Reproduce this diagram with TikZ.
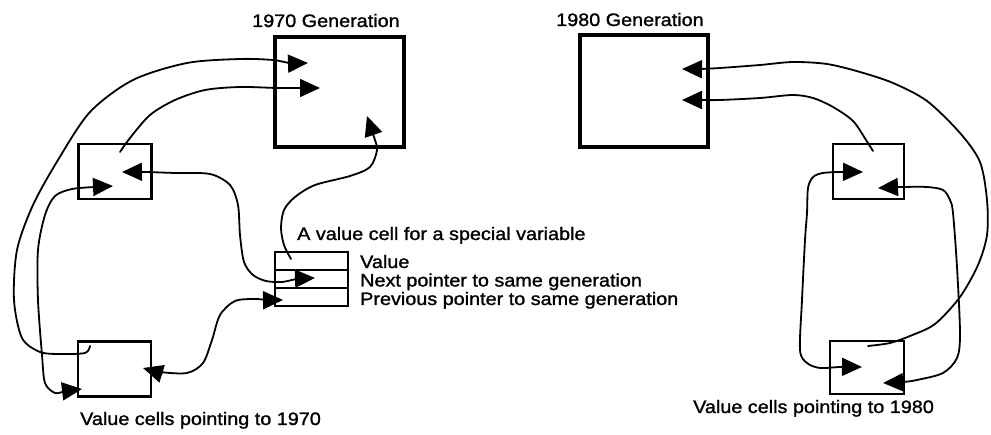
\documentclass[tikz,border=0pt]{standalone}
\usepackage{fontspec}
\setmainfont{Liberation Sans}[FakeStretch=1.1,FakeBold=1.3]
\usetikzlibrary{arrows.meta}
\begin{document}
\begin{tikzpicture}[x=1pt,y=-1pt,
  bigbox/.style={draw, line width=3.8pt, inner sep=0pt},
  smallbox/.style={draw, line width=2.4pt, inner sep=0pt, minimum width=73pt, minimum height=55pt},
  cellrow/.style={draw, line width=2.2pt, inner sep=0pt, minimum width=73pt, minimum height=18pt},
  lbl/.style={font=\fontsize{18}{20}\selectfont, inner sep=0pt, anchor=base west},
  conn/.style={line width=1.8pt, line join=round, line cap=round},
  ar/.tip={Triangle[length=20pt,width=18pt]}]
\useasboundingbox (0,0) rectangle (991,435);

% generation boxes
\node[bigbox, minimum width=129pt, minimum height=110pt] (g70) at (339.5,92) {};
\node[bigbox, minimum width=128pt, minimum height=112pt] (g80) at (644,91) {};

% value cells
\node[smallbox] (L1) at (115,171.5) {};
\node[smallbox] (L2) at (114.5,369) {};
\node[smallbox, minimum width=71pt] (R1) at (868.5,171.5) {};
\node[smallbox, minimum width=74pt, minimum height=53pt] (R2) at (867,367.5) {};

% the special value cell
\node[cellrow] (vc1) at (311.5,261) {};
\node[cellrow] (vc2) at (311.5,279) {};
\node[cellrow] (vc3) at (311.5,297) {};

% labels
\node[lbl] (t70) at (252,27) {1970 Generation};
\node[lbl] (t80) at (556,26) {1980 Generation};
\node[lbl] (tcell) at (297,240) {A value cell for a special variable};
\node[lbl] (tval) at (360,268) {Value};
\node[lbl] (tnext) at (360,286.5) {Next pointer to same generation};
\node[lbl] (tprev) at (360,305) {Previous pointer to same generation};
\node[lbl] (tv70) at (80,425) {Value cells pointing to 1970};
\node[lbl] (tv80) at (693,413) {Value cells pointing to 1980};

% connector end points
\coordinate (c1s) at (90,346);  \coordinate (c1e) at (308,63);
\coordinate (c2a) at (113,186); \coordinate (c2b) at (82,389);
\coordinate (c3s) at (120,152); \coordinate (c3e) at (320,88);
\coordinate (c4a) at (122,172); \coordinate (c4b) at (315,278);
\coordinate (c5s) at (291,259); \coordinate (c5e) at (367,116);
\coordinate (c6a) at (143,368); \coordinate (c6b) at (283,300);
\coordinate (c7s) at (868,346); \coordinate (c7e) at (682,69);
\coordinate (c8s) at (873,151); \coordinate (c8e) at (682,100);
\coordinate (c9a) at (863,172); \coordinate (c9b) at (862,367);
\coordinate (c10a) at (878,188); \coordinate (c10b) at (883,383);

% left side connectors
\draw[conn,-ar] plot[smooth,tension=0.5] coordinates {(c1s) (85,353) (60,354) (40,352) (22,338) (14,300) (17,250) (33,205) (58,160) (90,112) (133,80) (187,63) (240,59) (273,60) (290,63) (c1e)};
\draw[conn,ar-ar] plot[smooth,tension=0.5] coordinates {(c2a) (95,187) (72,189) (55,196) (45,215) (38,250) (38,300) (42,355) (45,383) (55,393) (66,391) (c2b)};
\draw[conn,-ar] plot[smooth,tension=0.5] coordinates {(c3s) (130,138) (150,115) (175,100) (205,90) (240,87) (277,88) (300,88) (c3e)};
\draw[conn,ar-ar] plot[smooth,tension=0.5] coordinates {(c4a) (145,172) (175,173) (210,174) (230,185) (238,205) (240,235) (244,262) (253,275) (266,281) (282,282) (297,279) (c4b)};
\draw[conn,-ar] plot[smooth,tension=0.5] coordinates {(c5s) (284,245) (281,228) (284,210) (295,197) (315,185) (350,176) (370,167) (377,150) (374,137) (c5e)};
\draw[conn,ar-ar] plot[smooth,tension=0.5] coordinates {(c6a) (160,372) (187,373) (203,363) (212,340) (220,315) (235,301) (255,299) (267,300) (c6b)};

% right side connectors
\draw[conn,-ar] plot[smooth,tension=0.5] coordinates {(c7s) (890,343) (910,336) (935,324) (960,297) (978,265) (987,235) (987,200) (980,162) (960,133) (927,101) (893,83) (860,72) (827,64) (793,62) (760,65) (720,68) (700,69) (c7e)};
\draw[conn,-ar] plot[smooth,tension=0.5] coordinates {(c8s) (866,140) (853,121) (833,107) (813,98) (793,95) (760,98) (720,100) (700,100) (c8e)};
\draw[conn,ar-ar] plot[smooth,tension=0.5] coordinates {(c9a) (840,172) (823,173) (813,177) (808,188) (807,213) (805,240) (802,300) (800,350) (807,363) (820,368) (840,367) (c9b)};
\draw[conn,ar-ar] plot[smooth,tension=0.5] coordinates {(c10a) (903,187) (927,187) (943,190) (950,200) (953,213) (957,267) (960,333) (957,358) (943,373) (917,380) (903,382) (c10b)};
\end{tikzpicture}
\end{document}
